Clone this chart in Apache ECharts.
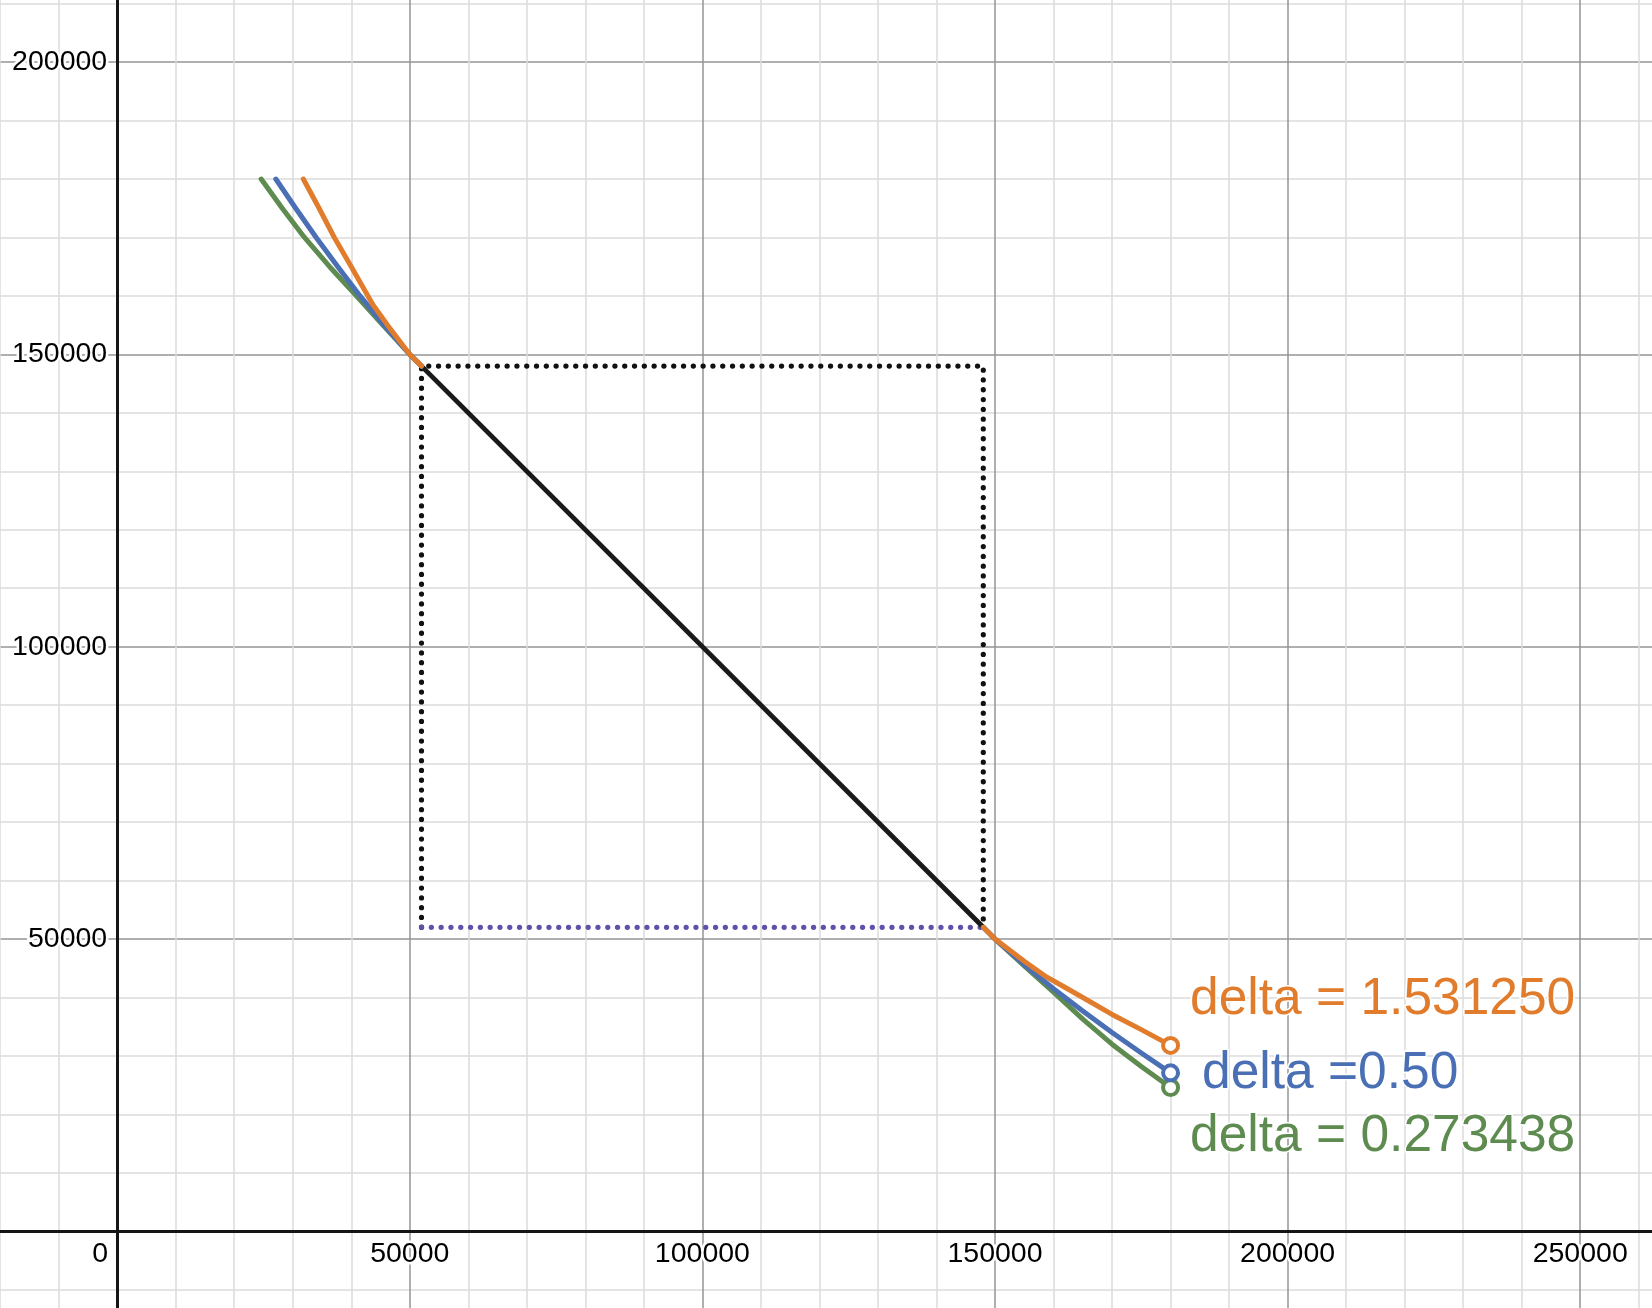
<!DOCTYPE html>
<html><head><meta charset="utf-8">
<script src="https://cdn.jsdelivr.net/npm/echarts@6/dist/echarts.min.js"></script>
<style>html,body{margin:0;padding:0;background:#fff}#c{width:1652px;height:1308px}</style>
</head><body><div id="c"></div>
<script>
// ---- data ----
const deltaLabels = ['delta = 1.531250', 'delta =0.50', 'delta = 0.273438'];
const seriesColors = ['#e07c2c', '#4a6fb4', '#5e8b4f'];
const orangeLeft  = [[31800,180000],[34500,175000],[37100,170000],[40000,165000],[41700,162000],[43700,158500],[46200,155000],[50000,150000],[52000,148000]];
const orangeRight = [[148000,52000],[150000,50000],[155000,46200],[158500,43700],[162000,41700],[165000,40000],[170000,37100],[175000,34500],[180000,31800]];
const blueLeft    = [[27100,180000],[30500,175000],[34000,170000],[37700,165000],[41500,160000],[45600,155000],[50000,150000],[52000,148000]];
const blueRight   = [[148000,52000],[150000,50000],[155000,45600],[160000,41500],[165000,37700],[170000,34000],[175000,30500],[180000,27100]];
const greenLeft   = [[24600,180000],[28200,175000],[32000,170000],[36300,165000],[40900,160000],[45400,155000],[50000,150000],[52000,148000]];
const greenRight  = [[148000,52000],[150000,50000],[155000,45400],[160000,40900],[165000,36300],[170000,32000],[175000,28200],[180000,24600]];
const diagonal    = [[52000,148000],[148000,52000]];
const boxBlack    = [[52000,52000],[52000,148000],[148000,148000],[148000,52000]];
const boxBottom   = [[52000,52000],[148000,52000]];
const xRange = [-50000, 300000];
const yRange = [-50000, 250000];
const tickStep = 50000;

const axisFont = "'Liberation Sans',Arial,Helvetica,sans-serif";
const labelFont = "'Liberation Sans',Arial,Helvetica,sans-serif";

function curve(data, color, z) {
  return { type: 'line', data: data, symbol: 'none', z: z, silent: true,
    lineStyle: { color: color, width: 5, cap: 'round', join: 'round' } };
}
function endPoint(data, color, text, off) {
  return { type: 'scatter', data: [data[data.length - 1]], z: 10, silent: true,
    symbol: 'circle', symbolSize: 15,
    itemStyle: { color: '#ffffff', borderColor: color, borderWidth: 4, opacity: 1 },
    label: { show: true, position: 'right', distance: 0, offset: off, opacity: 1,
      formatter: text, color: color, fontSize: 51.5, fontFamily: labelFont,
      textBorderColor: '#fff', textBorderWidth: 3 } };
}

const chart = echarts.init(document.getElementById('c'), null, { renderer: 'canvas' });
chart.setOption({
  animation: false,
  backgroundColor: '#fff',
  grid: { left: -175.4, right: -220.8, top: -230.2, bottom: -215.6, containLabel: false, outerBoundsMode: 'none' },
  xAxis: {
    type: 'value', min: xRange[0], max: xRange[1], interval: tickStep,
    position: 'bottom', offset: -292.3,
    axisLine: { onZero: false, lineStyle: { color: '#151515', width: 3 } },
    axisTick: { show: false },
    splitLine: { show: true, lineStyle: { color: '#959595', width: 1.5 } },
    minorTick: { show: false, splitNumber: 5 },
    minorSplitLine: { show: true, lineStyle: { color: '#dcdcdc', width: 1.5 } },
    axisLabel: {
      margin: 8, color: '#000', fontSize: 28.5, fontFamily: axisFont,
      textBorderColor: '#fff', textBorderWidth: 5,
      formatter: v => v === 0 ? '{z|0}' : String(v),
      rich: { z: { padding: [0, 34, 0, 0], color: '#000', fontSize: 28.5, fontFamily: axisFont,
                   textBorderColor: '#fff', textBorderWidth: 5 } }
    },
    z: 1
  },
  yAxis: {
    type: 'value', min: yRange[0], max: yRange[1], interval: tickStep,
    position: 'left', offset: -292.6,
    axisLine: { onZero: false, lineStyle: { color: '#151515', width: 3 } },
    axisTick: { show: false },
    splitLine: { show: true, lineStyle: { color: '#959595', width: 1.5 } },
    minorTick: { show: false, splitNumber: 5 },
    minorSplitLine: { show: true, lineStyle: { color: '#dcdcdc', width: 1.5 } },
    axisLabel: {
      margin: 10, color: '#000', fontSize: 28.5, fontFamily: axisFont,
      textBorderColor: '#fff', textBorderWidth: 5,
      formatter: v => v === 0 ? '' : String(v)
    },
    z: 1
  },
  series: [
    { type: 'line', data: boxBlack, symbol: 'none', z: 3, silent: true,
      lineStyle: { color: '#111', width: 5.2, type: [0.1, 9.7], cap: 'round' } },
    { type: 'line', data: boxBottom, symbol: 'none', z: 3, silent: true,
      lineStyle: { color: '#6150aa', width: 5.2, type: [0.1, 9.7], cap: 'round' } },
    { type: 'line', data: diagonal, symbol: 'none', z: 4, silent: true,
      lineStyle: { color: '#1a1a1a', width: 4.8, cap: 'round' } },
    curve(greenLeft, seriesColors[2], 5),
    curve(greenRight, seriesColors[2], 5),
    curve(blueLeft, seriesColors[1], 6),
    curve(blueRight, seriesColors[1], 6),
    curve(orangeLeft, seriesColors[0], 7),
    curve(orangeRight, seriesColors[0], 7),
    endPoint(greenRight, seriesColors[2], deltaLabels[2], [10, 49]),
    endPoint(blueRight, seriesColors[1], deltaLabels[1], [22, 1]),
    endPoint(orangeRight, seriesColors[0], deltaLabels[0], [10, -46])
  ]
});
</script></body></html>
